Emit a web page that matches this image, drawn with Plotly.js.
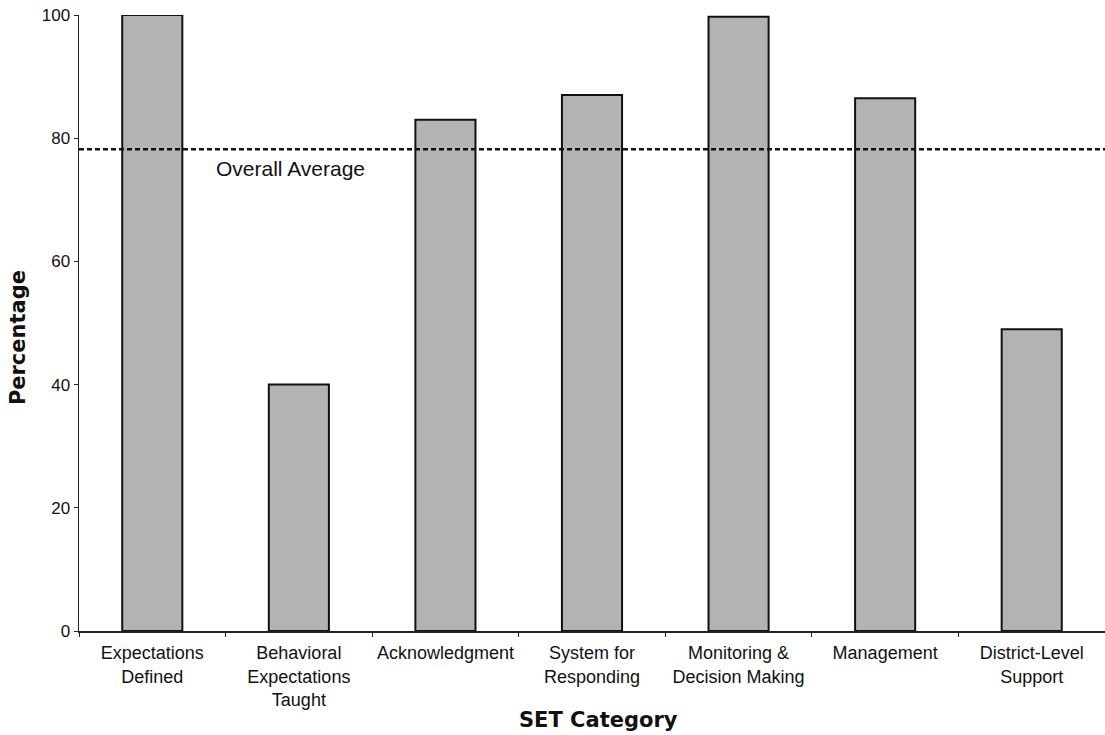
<!DOCTYPE html>
<html>
<head>
<meta charset="utf-8">
<script src="https://cdn.plot.ly/plotly-3.0.1.min.js"></script>
<style>html,body{margin:0;padding:0;background:#fff;}#chart{width:1105px;height:735px;}</style>
</head>
<body>
<div id="chart"></div>
<script>
const categories = [
  "Expectations<br>Defined",
  "Behavioral<br>Expectations<br>Taught",
  "Acknowledgment",
  "System for<br>Responding",
  "Monitoring &amp;<br>Decision Making",
  "Management",
  "District-Level<br>Support"
];
const percentages = [100, 40, 83, 87, 99.7, 86.5, 49];
const overallAverage = 78.2;
const yTickVals = [0, 20, 40, 60, 80, 100];

const trace = {
  type: "bar",
  x: categories,
  y: percentages,
  marker: { color: "#b3b3b3", line: { color: "#111", width: 2 } },
  hoverinfo: "x+y"
};

const layout = {
  width: 1105,
  height: 735,
  margin: { l: 79, r: 0, t: 15, b: 104 },
  paper_bgcolor: "#fff",
  plot_bgcolor: "#fff",
  showlegend: false,
  bargap: 0.59,
  font: { family: "Liberation Sans, Arial, sans-serif", color: "#111", size: 17 },
  xaxis: {
    type: "category",
    range: [-0.5, 6.5],
    showline: true,
    linecolor: "#222",
    linewidth: 1.5,
    ticks: "outside",
    tickson: "boundaries",
    ticklen: 4,
    tickcolor: "#222",
    ticklabelstandoff: 5,
    showgrid: false,
    zeroline: false,
    tickfont: { size: 18, color: "#111" }
  },
  yaxis: {
    range: [0, 100],
    tickvals: yTickVals,
    ticktext: yTickVals.map(String),
    showline: true,
    linecolor: "#222",
    linewidth: 1.5,
    ticks: "outside",
    ticklen: 4,
    tickcolor: "#222",
    showgrid: false,
    zeroline: false,
    tickfont: { size: 17, color: "#111" }
  },
  shapes: [{
    type: "line",
    xref: "paper", x0: 0, x1: 1,
    yref: "y", y0: overallAverage, y1: overallAverage,
    line: { color: "#111", width: 2.5, dash: "5px,3px" },
    layer: "above"
  }],
  annotations: [
    {
      text: "Overall Average",
      xref: "paper", x: 0.2057, xanchor: "center",
      yref: "y", y: overallAverage, yanchor: "top", yshift: -6,
      showarrow: false,
      font: { size: 21, color: "#111", family: "Liberation Sans, Arial, sans-serif" }
    },
    {
      text: "<b>Percentage</b>",
      xref: "paper", x: -0.0595, xanchor: "center",
      yref: "paper", y: 0.477, yanchor: "middle",
      textangle: -90,
      showarrow: false,
      font: { size: 21, color: "#111", family: "DejaVu Sans, sans-serif" }
    },
    {
      text: "<b>SET Category</b>",
      xref: "paper", x: 0.506, xanchor: "center",
      yref: "paper", y: -0.1445, yanchor: "middle",
      showarrow: false,
      font: { size: 21, color: "#111", family: "DejaVu Sans, sans-serif" }
    }
  ]
};

Plotly.newPlot("chart", [trace], layout, { displayModeBar: false, staticPlot: true });
</script>
</body>
</html>
